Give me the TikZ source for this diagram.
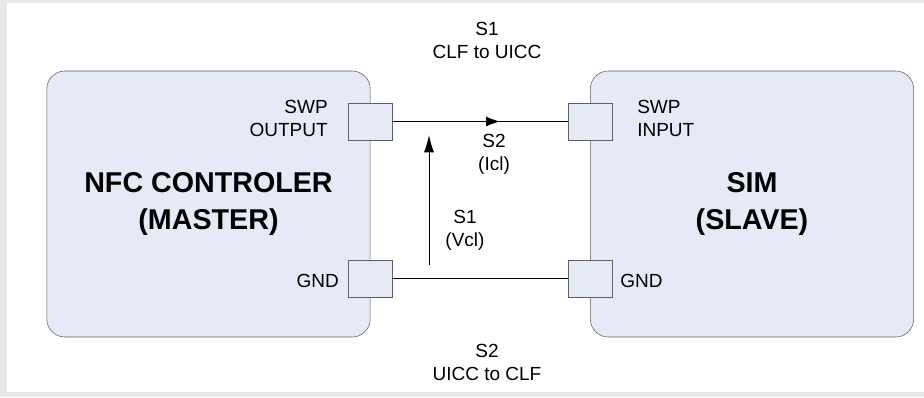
\documentclass[tikz,border=0pt]{standalone}
\usepackage{fontspec}
\setmainfont{Liberation Sans}
\usetikzlibrary{arrows.meta}
\definecolor{boxFill}{RGB}{230, 234, 246}
\definecolor{edgeGray}{RGB}{95, 95, 95}
\definecolor{frameGray}{RGB}{232, 232, 232}

\tikzset{
  chip/.style={draw=edgeGray, fill=boxFill, rounded corners=13.5pt,
    minimum width=242.5pt, minimum height=199.5pt, inner sep=0pt,
    font=\fontsize{21.5}{27.75}\selectfont\bfseries, align=center},
  port/.style={draw=edgeGray, fill=boxFill, minimum width=33pt,
    minimum height=27.5pt, inner sep=0pt},
  lbl/.style={font=\fontsize{14.25}{17.25}\selectfont, align=center, inner sep=0pt},
  wire/.style={draw=black, line width=0.75pt},
}

\begin{document}
\begin{tikzpicture}[x=0.75pt, y=-0.75pt]
        % frame
        \fill[frameGray] (0,0) rectangle (924,397);
        \fill[white] (7,3) rectangle (924,392);

        % the two chips
        \node[chip] (nfc) at (208.5,204) {NFC CONTROLER\\(MASTER)};
        \node[chip] (sim) at (752,204) {SIM\\(SLAVE)};

        % ports
        \node[port] (swpout) at (370,121.5) {};
        \node[port] (gndout) at (370,278.5) {};
        \node[port] (swpin) at (590,121.5) {};
        \node[port] (gndin) at (590,278.5) {};

        \node[lbl, anchor=east, align=right] (outlbl) at (328,118) {SWP\\OUTPUT};
        \node[lbl, anchor=west, align=left] (inlbl) at (637,118) {SWP\\INPUT};
        \node[lbl, anchor=east] (gndl) at (339,281) {GND};
        \node[lbl, anchor=west] (gndr) at (620,281) {GND};

        % wires
        \coordinate (dirtip) at (500,121.5);
        \coordinate (vbot) at (429,265);
        \coordinate (vtop) at (429,135);
        \draw[wire] (swpout.east) -- (swpin.west);
        \draw[wire, -{Latex[length=10.5pt, width=7.5pt]}] (swpout.east) -- (dirtip);
        \draw[wire] (gndout.east) -- (gndin.west);
        \draw[wire, -{Latex[length=13pt, width=7.5pt]}] (vbot) -- (vtop);

        % signal labels
        \node[lbl] (sigtop) at (487,40) {S1\\CLF to UICC};
        \node[lbl] (sigcur) at (494,154) {S2\\(Icl)};
        \node[lbl] (sigvol) at (465,230) {S1\\(Vcl)};
        \node[lbl] (sigbot) at (487,362) {S2\\UICC to CLF};
      \end{tikzpicture}
\end{document}
